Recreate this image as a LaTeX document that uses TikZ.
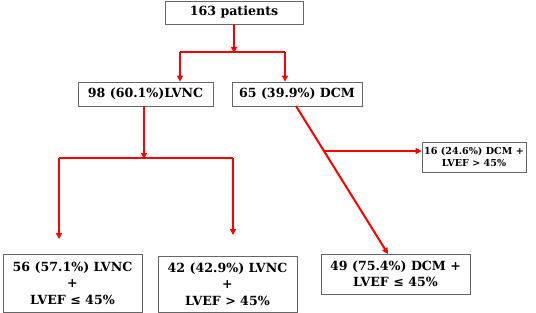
\documentclass[tikz,border=0pt]{standalone}
\usepackage{fontspec}
\setmainfont{DejaVu Serif}
\usetikzlibrary{arrows.meta}
\begin{document}
\begin{tikzpicture}[x=1pt,y=-1pt,
  box/.style={draw=gray!80!black,line width=0.8pt,rectangle,inner sep=0pt,align=center,font=\bfseries\fontsize{12.6}{16.5}\selectfont},
  smallbox/.style={box,font=\bfseries\fontsize{9.6}{12}\selectfont},
  arr/.style={draw=red,line width=2pt,-{Triangle[length=6pt,width=6pt]}},
  ln/.style={draw=red,line width=2pt}]
\useasboundingbox (0,0) rectangle (536,313);
\node[box,minimum width=138pt,minimum height=23pt] (top) at (234,12.5) {163 patients};
\node[box,minimum width=135pt,minimum height=24pt] (lvnc) at (145.5,94) {98 (60.1\%)LVNC};
\node[box,minimum width=130pt,minimum height=24pt] (dcm) at (297,94) {65 (39.9\%) DCM};
\node[box,minimum width=139pt,minimum height=58pt] (a56) at (72.5,283) {56 (57.1\%) LVNC\\+\\LVEF ≤ 45\%};
\node[box,minimum width=139pt,minimum height=56pt] (a42) at (227.5,284) {42 (42.9\%) LVNC\\+\\LVEF > 45\%};
\node[smallbox,minimum width=104pt,minimum height=30pt] (d16) at (474,157) {16 (24.6\%) DCM +\\LVEF > 45\%};
\node[box,minimum width=149pt,minimum height=40pt] (d49) at (395.5,274) {49 (75.4\%) DCM +\\LVEF ≤ 45\%};
% top split
\coordinate (t1) at (234,52);
\coordinate (tl) at (180,52);
\coordinate (tr) at (285,52);
\draw[arr] (top.south -| t1) -- ([yshift=-1pt]t1);
\draw[ln] (tl) -- (tr);
\draw[arr] (tl) -- (tl |- lvnc.north);
\draw[arr] (tr) -- (tr |- dcm.north);
% lvnc split
\coordinate (l1) at (144,158);
\coordinate (ll) at (59,158);
\coordinate (lr) at (233,158);
\draw[arr] (lvnc.south -| l1) -- ([yshift=-1pt]l1);
\draw[ln] (ll) -- (lr);
\draw[arr] (ll) -- (59,239);
\draw[arr] (lr) -- (233,235);
% dcm
\coordinate (ds) at (296,106);
\coordinate (de) at (388,254);
\coordinate (db) at (324,151);
\draw[arr] (ds) -- (de);
\draw[arr] (db) -- (d16.west |- db);
\end{tikzpicture}
\end{document}
